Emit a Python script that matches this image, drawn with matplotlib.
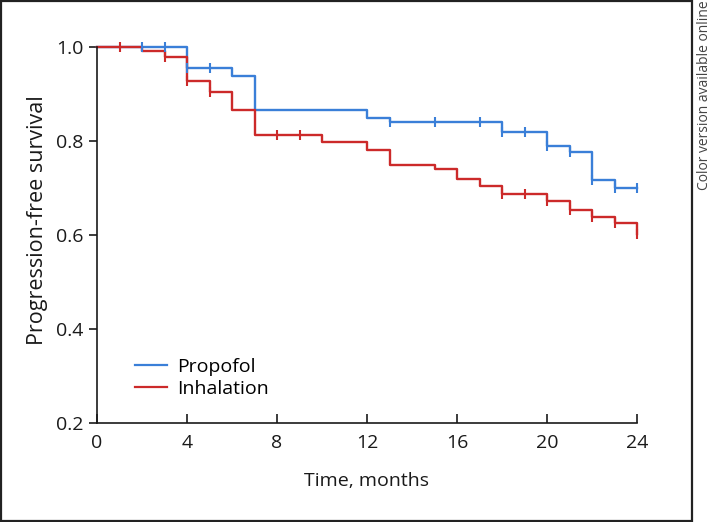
import matplotlib
matplotlib.use("Agg")
import matplotlib.pyplot as plt
import numpy as np
from matplotlib.patches import Rectangle
from matplotlib.lines import Line2D

plt.rcParams['font.family'] = ['Open Sans', 'DejaVu Sans']

# Propofol step curve
prop_t = [0, 4, 6, 7, 12, 13, 18, 20, 21, 22, 23, 24]
prop_s = [1.0, 0.956, 0.938, 0.866, 0.848, 0.840, 0.820, 0.790, 0.777, 0.718, 0.699, 0.699]
prop_cens = [2, 3, 4, 5, 13, 15, 17, 18, 19, 20, 21, 22, 23, 24]

# Inhalation step curve
inh_t = [0, 2, 3, 4, 5, 6, 7, 10, 12, 13, 15, 16, 17, 18, 20, 21, 22, 23, 24]
inh_s = [1.0, 0.992, 0.978, 0.927, 0.905, 0.866, 0.813, 0.797, 0.781, 0.750, 0.740,
         0.720, 0.704, 0.687, 0.673, 0.653, 0.639, 0.625, 0.602]
inh_cens = [1, 3, 4, 5, 8, 9, 18, 19, 20, 21, 22, 23, 24]

x_ticks = [0, 4, 8, 12, 16, 20, 24]
y_ticks = [0.2, 0.4, 0.6, 0.8, 1.0]

blue = '#3a7fd8'
red = '#cc2a2a'
dark = '#1a1a1a'

def step_at(times, surv, t):
    idx = np.searchsorted(times, t, side='right') - 1
    return surv[idx]

fig = plt.figure(figsize=(7.12, 5.22), dpi=100)
ax = fig.add_axes([97/712, 1-423/522, (637-97)/712, (423-47)/522])

ax.plot(prop_t, prop_s, drawstyle='steps-post', color=blue, lw=1.7, clip_on=False)
ax.plot(inh_t, inh_s, drawstyle='steps-post', color=red, lw=1.7, clip_on=False)
ax.plot(prop_cens, [step_at(prop_t, prop_s, t) for t in prop_cens], ls='none',
        marker='|', ms=7.5, mew=1.5, color=blue, clip_on=False)
ax.plot(inh_cens, [step_at(inh_t, inh_s, t) for t in inh_cens], ls='none',
        marker='|', ms=7.5, mew=1.5, color=red, clip_on=False)

ax.set_xlim(0, 24)
ax.set_ylim(0.2, 1.0)
ax.set_xticks(x_ticks)
ax.set_xticklabels([str(v) for v in x_ticks])
ax.set_yticks(y_ticks)
ax.set_yticklabels([f'{v:.1f}' for v in y_ticks])
ax.set_xticks([0, 24], minor=True)

for s in ['top', 'right']:
    ax.spines[s].set_visible(False)
for s in ['left', 'bottom']:
    ax.spines[s].set_linewidth(1.2)
    ax.spines[s].set_color(dark)

ax.tick_params(axis='x', which='major', direction='in', length=6.5, width=1.2,
               labelsize=14, pad=8, color=dark, labelcolor=dark)
ax.tick_params(axis='x', which='minor', direction='out', length=6.5, width=1.2,
               color=dark)
ax.tick_params(axis='y', direction='out', length=5.5, width=1.2, labelsize=14,
               pad=4, color=dark, labelcolor=dark)

ax.set_xlabel('Time, months', fontsize=14, labelpad=14, color=dark)
ax.set_ylabel('Progression-free survival', fontsize=15.5, color=dark)
ax.yaxis.set_label_coords(-49/540, 0.54)

handles = [Line2D([], [], color=blue, lw=1.6), Line2D([], [], color=red, lw=1.6)]
ax.legend(handles, ['Propofol', 'Inhalation'], loc='lower left',
          bbox_to_anchor=(0.07, 0.066), frameon=False, fontsize=14,
          handlelength=1.65, handletextpad=0.55, labelspacing=0.2, borderaxespad=0,
          borderpad=0)

fig.patches.append(Rectangle((1/712, 1-521/522), 691/712, 520/522,
                             transform=fig.transFigure, fill=False,
                             edgecolor='#222222', lw=1.6))
fig.text(704.5/712, 1.0, 'Color version available online', rotation=90,
         ha='center', va='top', fontsize=10, color='#444444')

fig.savefig('out.png', dpi=100)
